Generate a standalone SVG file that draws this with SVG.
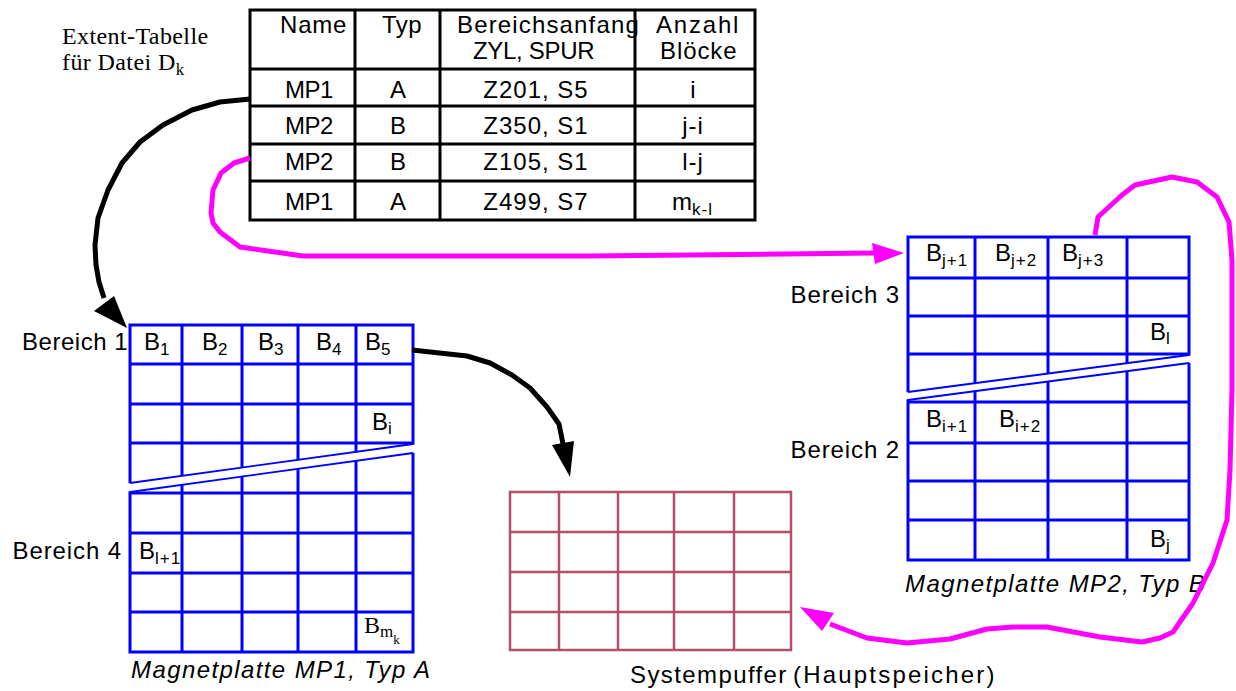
<svg xmlns="http://www.w3.org/2000/svg" width="1236" height="691" viewBox="0 0 1236 691">
  <style>
    .sans { font-family: "Liberation Sans", "DejaVu Sans", sans-serif; font-size: 24px; fill: #000; }
    .sub { font-family: "Liberation Sans", "DejaVu Sans", sans-serif; font-size: 17px; fill: #000; letter-spacing: 1px; }
    .serif { font-family: "Liberation Serif", "DejaVu Serif", serif; fill: #000; }
    .ital { font-family: "Liberation Sans", "DejaVu Sans", sans-serif; font-size: 24px; font-style: italic; letter-spacing: 1.4px; fill: #000; }
    .tbl { fill: none; stroke: #000; stroke-width: 3; }
    .disk { fill: none; stroke: #0000ff; stroke-width: 3; }
    .diag { fill: none; stroke: #0000ff; stroke-width: 1.8; }
    .buf { fill: none; stroke: #b44f68; stroke-width: 2.5; }
    .blk { fill: none; stroke: #000; stroke-width: 5; stroke-linejoin: round; }
    .mag { fill: none; stroke: #ff00ff; stroke-width: 5; stroke-linejoin: round; }
    .mid { text-anchor: middle; }
    .end { text-anchor: end; }
  </style>

  <!-- caption of the extent table -->
  <g id="caption">
    <text class="serif" x="62" y="44" font-size="24" letter-spacing="0.4">Extent-Tabelle</text>
    <text class="serif" x="62" y="70" font-size="24" letter-spacing="0.4">für Datei D<tspan font-size="17" dy="5">k</tspan></text>
  </g>

  <!-- extent table -->
  <g id="extent-table">
    <rect class="tbl" x="250" y="10" width="505" height="210"/>
    <path class="tbl" d="M355,10V220 M440,10V220 M635,10V220 M250,69H755 M250,106H755 M250,144H755 M250,181H755"/>
    <text class="sans" x="280" y="33" letter-spacing="0.8">Name</text>
    <text class="sans" x="382" y="33" letter-spacing="0.5">Typ</text>
    <text class="sans" x="457" y="33" letter-spacing="1.15">Bereichsanfang</text>
    <text class="sans" x="473" y="59" letter-spacing="-0.3">ZYL, SPUR</text>
    <text class="sans" x="656" y="33" letter-spacing="1.8">Anzahl</text>
    <text class="sans" x="660" y="59" letter-spacing="0.9">Blöcke</text>

    <text class="sans mid" x="309" y="98" letter-spacing="-0.5">MP1</text>
    <text class="sans mid" x="398" y="98">A</text>
    <text class="sans mid" x="536" y="98" letter-spacing="1">Z201, S5</text>
    <text class="sans mid" x="693" y="98">i</text>

    <text class="sans mid" x="309" y="134" letter-spacing="-0.5">MP2</text>
    <text class="sans mid" x="398" y="134">B</text>
    <text class="sans mid" x="536" y="134" letter-spacing="1">Z350, S1</text>
    <text class="sans mid" x="693" y="134" letter-spacing="1">j-i</text>

    <text class="sans mid" x="309" y="170" letter-spacing="-0.5">MP2</text>
    <text class="sans mid" x="398" y="170">B</text>
    <text class="sans mid" x="536" y="170" letter-spacing="1">Z105, S1</text>
    <text class="sans mid" x="693" y="170" letter-spacing="1">l-j</text>

    <text class="sans mid" x="309" y="210" letter-spacing="-0.5">MP1</text>
    <text class="sans mid" x="398" y="210">A</text>
    <text class="sans mid" x="536" y="210" letter-spacing="1">Z499, S7</text>
    <text class="sans" x="672" y="210">m<tspan class="sub" dy="5" letter-spacing="2.5">k-l</tspan></text>
  </g>

  <!-- disk MP1, type A -->
  <g id="disk-mp1">
    <rect class="disk" x="130" y="325" width="283" height="327"/>
    <path class="disk" d="M182,325V652 M242,325V652 M298,325V652 M356,325V652 M130,364H413 M130,404H413 M130,443H413 M130,493H413 M130,533H413 M130,573H413 M130,612H413"/>
    <polygon points="127,483.5 416,444.5 416,452.5 127,491.5" fill="#fff"/>
    <path class="diag" d="M130,483L413,444 M130,492L413,453"/>
    <text class="sans" x="144" y="350">B<tspan class="sub" dy="5">1</tspan></text>
    <text class="sans" x="202" y="350">B<tspan class="sub" dy="5">2</tspan></text>
    <text class="sans" x="258" y="350">B<tspan class="sub" dy="5">3</tspan></text>
    <text class="sans" x="316" y="350">B<tspan class="sub" dy="5">4</tspan></text>
    <text class="sans" x="365" y="350">B<tspan class="sub" dy="5">5</tspan></text>
    <text class="sans" x="372" y="430">B<tspan class="sub" dy="4">i</tspan></text>
    <text class="sans" x="139" y="559">B<tspan class="sub" dy="5" letter-spacing="3">l+1</tspan></text>
    <text class="serif" x="364" y="633" font-size="24">B<tspan font-size="17" dy="4">m</tspan><tspan font-size="13" dy="7">k</tspan></text>
    <text class="sans end" x="128" y="350" letter-spacing="0.5">Bereich 1</text>
    <text class="sans end" x="122" y="559" letter-spacing="0.9">Bereich 4</text>
    <text class="ital" x="131" y="678">Magnetplatte MP1, Typ A</text>
  </g>

  <!-- system buffer in main memory -->
  <g id="systempuffer">
    <rect class="buf" x="510" y="492" width="281" height="158"/>
    <path class="buf" d="M559,492V650 M618,492V650 M674,492V650 M734,492V650 M510,532H791 M510,572H791 M510,612H791"/>
    <text class="sans" x="630" y="683" letter-spacing="1.4">Systempuffer</text>
    <text class="sans" x="793" y="683" font-size="22" letter-spacing="2.2">(Hauptspeicher)</text>
  </g>

  <!-- disk MP2, type B -->
  <g id="disk-mp2">
    <rect class="disk" x="908" y="237" width="281" height="323"/>
    <path class="disk" d="M975,237V560 M1048,237V560 M1127,237V560 M908,278H1189 M908,316H1189 M908,354H1189 M908,402H1189 M908,443H1189 M908,481H1189 M908,520H1189"/>
    <polygon points="905,392.5 1192,355.5 1192,362.5 905,399.5" fill="#fff"/>
    <path class="diag" d="M908,392L1189,355 M908,400L1189,363"/>
    <text class="sans" x="926" y="261">B<tspan class="sub" dy="5" letter-spacing="2.5">j+1</tspan></text>
    <text class="sans" x="995" y="261">B<tspan class="sub" dy="5" letter-spacing="2.5">j+2</tspan></text>
    <text class="sans" x="1062" y="261">B<tspan class="sub" dy="5" letter-spacing="2.5">j+3</tspan></text>
    <text class="sans" x="1150" y="340">B<tspan class="sub" dy="4">l</tspan></text>
    <text class="sans" x="926" y="427">B<tspan class="sub" dy="5" letter-spacing="2.5">i+1</tspan></text>
    <text class="sans" x="999" y="427">B<tspan class="sub" dy="5" letter-spacing="1.5">i+2</tspan></text>
    <text class="sans" x="1150" y="547">B<tspan class="sub" dy="4">j</tspan></text>
    <text class="sans end" x="900" y="303" letter-spacing="0.9">Bereich 3</text>
    <text class="sans end" x="900" y="458" letter-spacing="0.9">Bereich 2</text>
    <text class="ital" x="905" y="592">Magnetplatte MP2, Typ B</text>
  </g>

  <!-- connectors -->
  <g id="connectors">
    <path class="blk" d="M250,99 L220,102 L192,110 L163,125 L140,142 L122,163 L108,190 L98,218 L95,245 L96,265 L99,282 L104,298"/>
    <polygon points="94,311 114,296 127,328" fill="#000"/>
    <path class="blk" d="M412,350 L467,356 L490,363 L512,375 L530,388 L547,407 L559,424 L563,444"/>
    <polygon points="552,445 574,441 570,477" fill="#000"/>
    <path class="mag" d="M250,158 L234,163 L221,173 L213,190 L211,213 L213,223 L220,232 L240,247 L303,256 L590,256 L874,253"/>
    <polygon points="872,243 875,264 904,253" fill="#ff00ff"/>
    <path class="mag" d="M1095,235 L1098,217 L1122,195 L1135,185 L1172,177 L1197,182 L1217,197 L1229,222 L1232,260 L1232,390 L1230,470 L1227,520 L1213,563 L1193,603 L1173,632 L1160,638 L1142,642 L1100,637 L1047,627 L1013,627 L987,629 L950,639 L907,643 L867,638 L830,624"/>
    <polygon points="822,631 834,613 800,607" fill="#ff00ff"/>
  </g>
</svg>
